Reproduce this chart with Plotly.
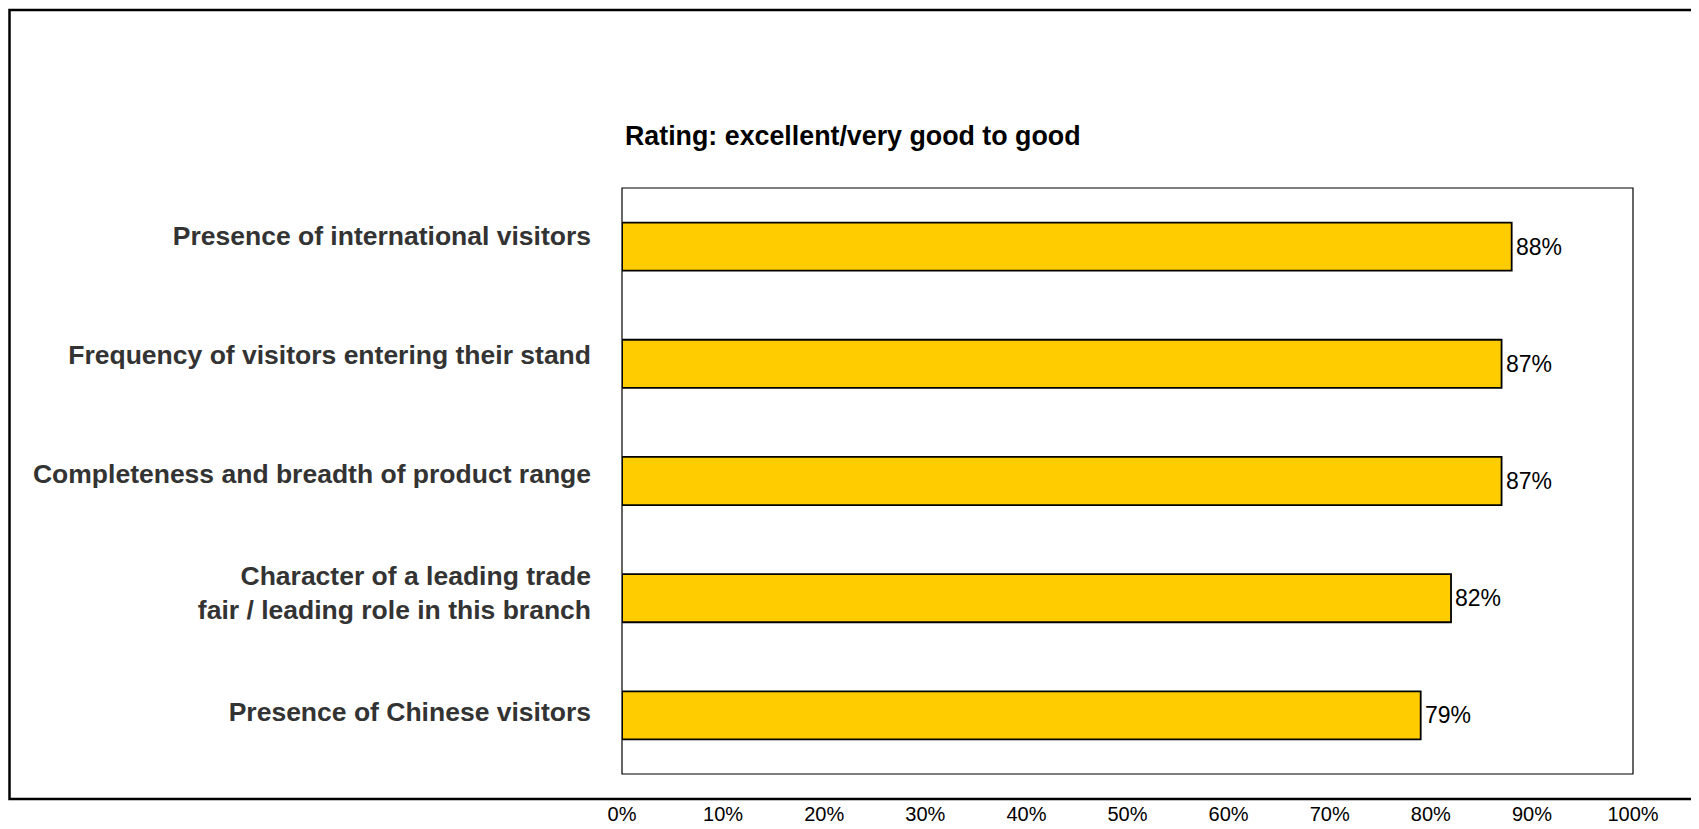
import plotly.graph_objects as go

categories = [
    "Presence of international visitors",
    "Frequency of visitors entering their stand",
    "Completeness and breadth of product range",
    "Character of a leading trade<br>fair / leading role in this branch",
    "Presence of Chinese visitors",
]
values = [88, 87, 87, 82, 79]
tick_vals = [0, 10, 20, 30, 40, 50, 60, 70, 80, 90, 100]
tick_text = [f"{v}%" for v in tick_vals]
title_text = "Rating: excellent/very good to good"

W, H = 1699, 829
# figure coordinates (page body adds ~8px offset)
L, R, T, B = 614, 1625, 180, 768
pw, ph = R - L, B - T

font_reg = "Liberation Sans, Arial, sans-serif"

fig = go.Figure()
fig.add_trace(go.Bar(
    x=values, y=categories, orientation="h",
    marker=dict(color="#FFCC00", line=dict(color="#000000", width=1.8)),
    hoverinfo="x+y",
))
# invisible helper trace: carries the category labels on a slightly offset label axis
fig.add_trace(go.Scatter(
    x=values, y=categories, yaxis="y2", mode="markers",
    marker=dict(opacity=0), hoverinfo="skip", showlegend=False,
))

for c, v in zip(categories, values):
    fig.add_annotation(x=v, y=c, xref="x", yref="y", text=f"{v}%",
                       showarrow=False, xanchor="left", yanchor="middle", xshift=2,
                       font=dict(family=font_reg, size=23, color="#000000"))

fig.update_layout(
    width=W, height=H,
    margin=dict(l=L, r=W - R, t=T, b=H - B, pad=0),
    paper_bgcolor="white", plot_bgcolor="white",
    bargap=0.59, showlegend=False,
    xaxis=dict(range=[0, 100], tickvals=tick_vals, ticktext=tick_text,
               showgrid=False, zeroline=False, showline=False, ticks="",
               tickfont=dict(family=font_reg, size=20, color="#000000"),
               ticklabelstandoff=26, fixedrange=True),
    yaxis=dict(range=[4.5, -0.5], showgrid=False, zeroline=False,
               showline=False, ticks="", showticklabels=False),
    yaxis2=dict(overlaying="y", side="left", range=[4.523, -0.397],
                showgrid=False, zeroline=False, showline=False, ticks="",
                tickfont=dict(family=font_reg, size=26.5, color="#333333", weight="bold"),
                ticklabelstandoff=30),
)

# plot-area border
fig.add_shape(type="rect", xref="paper", yref="paper", x0=0, x1=1, y0=0, y1=1,
              line=dict(color="#000000", width=1.2), layer="above")
# outer frame
fig.add_shape(type="rect", xref="paper", yref="paper",
              x0=(1.5 - L) / pw, x1=(W + 10 - L) / pw,
              y0=(B - 793) / ph, y1=(B - 1.5) / ph,
              line=dict(color="#000000", width=2.5))

fig.add_annotation(text=f"<b>{title_text}</b>", xref="paper", yref="paper",
                   x=(615 - L) / pw, y=(B - 128) / ph, xanchor="left", yanchor="middle",
                   showarrow=False, font=dict(family=font_reg, size=26.8, color="#000000"))

fig.write_html("out.html")
